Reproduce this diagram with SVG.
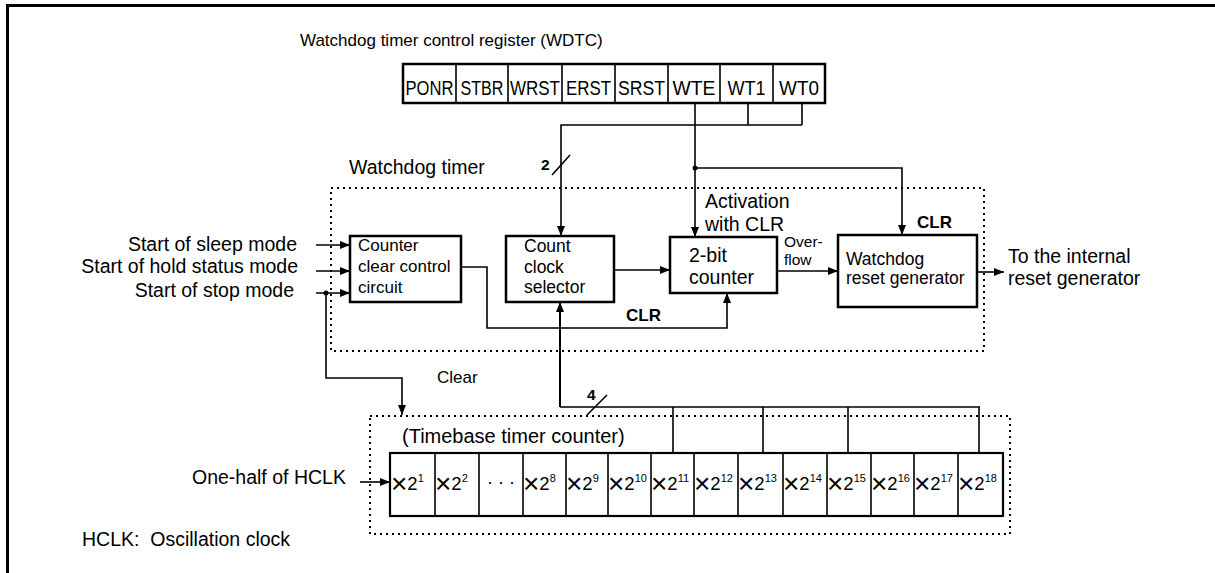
<svg xmlns="http://www.w3.org/2000/svg" width="1215" height="573" viewBox="0 0 1215 573">
<style>
text{font-family:"Liberation Sans",Arial,Helvetica,sans-serif;fill:#000}
.f15{font-size:15.5px}
.f17{font-size:17px}
.f175{font-size:17.5px}
.f19{font-size:19.5px}
.reg{font-size:20px;text-anchor:middle}
.b{font-weight:bold}
.box{fill:#fff;stroke:#000;stroke-width:2.5}
.ln{fill:none;stroke:#000;stroke-width:1.6}
.dotted{fill:none;stroke:#000;stroke-width:2;stroke-dasharray:2 4}
.cel{fill:none;stroke:#000;stroke-width:1.6}
.arr{marker-end:url(#ah)}
.c{font-size:18.5px}
.x{font-size:28px}
.s{font-size:11px}
</style>
<defs>
<marker id="ah" viewBox="0 0 10 8" refX="10" refY="4" markerWidth="10" markerHeight="8" markerUnits="userSpaceOnUse" orient="auto"><path d="M0,0L10,4L0,8z" fill="#000"/></marker>
</defs>
<rect width="1215" height="573" fill="#fff"/>
<path d="M7.5,573V5.5H1215" fill="none" stroke="#000" stroke-width="3"/>

<g id="register">
<text class="f17" x="300" y="46">Watchdog timer control register (WDTC)</text>
<rect x="403" y="64" width="422" height="39" fill="#fff" stroke="#000" stroke-width="2.5"/>
<path class="cel" d="M456,64V103M508,64V103M562,64V103M615,64V103M668,64V103M720,64V103M773,64V103"/>
<text class="reg" x="429.5" y="95" textLength="48" lengthAdjust="spacingAndGlyphs">PONR</text>
<text class="reg" x="482" y="95" textLength="43" lengthAdjust="spacingAndGlyphs">STBR</text>
<text class="reg" x="535" y="95" textLength="50" lengthAdjust="spacingAndGlyphs">WRST</text>
<text class="reg" x="588.5" y="95" textLength="45" lengthAdjust="spacingAndGlyphs">ERST</text>
<text class="reg" x="641.5" y="95" textLength="47" lengthAdjust="spacingAndGlyphs">SRST</text>
<text class="reg" x="694" y="95" textLength="43" lengthAdjust="spacingAndGlyphs">WTE</text>
<text class="reg" x="746.5" y="95" textLength="38" lengthAdjust="spacingAndGlyphs">WT1</text>
<text class="reg" x="799" y="95" textLength="40" lengthAdjust="spacingAndGlyphs">WT0</text>
</g>

<g id="watchdog-timer">
<rect class="dotted" x="331" y="188" width="653" height="163"/>
<text class="f19" x="349" y="174">Watchdog timer</text>
</g>

<g id="counter-clear">
<rect class="box" x="350" y="236" width="111" height="66"/>
<text class="f17" x="358" y="251">Counter</text>
<text class="f17" x="358" y="272">clear control</text>
<text class="f17" x="358" y="293">circuit</text>
</g>

<g id="count-clock-selector">
<rect class="box" x="506" y="236" width="108" height="66"/>
<text class="f175" x="524" y="252">Count</text>
<text class="f175" x="524" y="273">clock</text>
<text class="f175" x="524" y="293">selector</text>
</g>

<g id="two-bit-counter">
<rect class="box" x="670" y="237" width="107" height="56"/>
<text class="f19" x="689" y="262">2-bit</text>
<text class="f19" x="689" y="284">counter</text>
</g>

<g id="reset-generator">
<rect class="box" x="838" y="235" width="139" height="72"/>
<text class="f175" x="846" y="265">Watchdog</text>
<text class="f175" x="846" y="284">reset generator</text>
</g>

<g id="timebase">
<rect class="dotted" x="370" y="416" width="640" height="118"/>
<text x="402" y="443" style="font-size:20px">(Timebase timer counter)</text>
<rect x="390" y="453" width="613" height="63" fill="#fff" stroke="#000" stroke-width="2.2"/>
<path class="cel" d="M435,453V516M479,453V516M523,453V516M566,453V516M608,453V516M651,453V516M694,453V516M738,453V516M783,453V516M827,453V516M871,453V516M914,453V516M958,453V516"/>
<text class="c" x="391" y="490"><tspan class="x" dy="3">×</tspan><tspan dy="-3">2</tspan><tspan class="s" dy="-8">1</tspan></text>
<text class="c" x="435" y="490"><tspan class="x" dy="3">×</tspan><tspan dy="-3">2</tspan><tspan class="s" dy="-8">2</tspan></text>
<text x="501" y="488" style="font-size:18px;text-anchor:middle">· · ·</text>
<text class="c" x="523" y="490"><tspan class="x" dy="3">×</tspan><tspan dy="-3">2</tspan><tspan class="s" dy="-8">8</tspan></text>
<text class="c" x="566" y="490"><tspan class="x" dy="3">×</tspan><tspan dy="-3">2</tspan><tspan class="s" dy="-8">9</tspan></text>
<text class="c" x="608" y="490"><tspan class="x" dy="3">×</tspan><tspan dy="-3">2</tspan><tspan class="s" dy="-8">10</tspan></text>
<text class="c" x="651" y="490"><tspan class="x" dy="3">×</tspan><tspan dy="-3">2</tspan><tspan class="s" dy="-8">11</tspan></text>
<text class="c" x="694" y="490"><tspan class="x" dy="3">×</tspan><tspan dy="-3">2</tspan><tspan class="s" dy="-8">12</tspan></text>
<text class="c" x="738" y="490"><tspan class="x" dy="3">×</tspan><tspan dy="-3">2</tspan><tspan class="s" dy="-8">13</tspan></text>
<text class="c" x="783" y="490"><tspan class="x" dy="3">×</tspan><tspan dy="-3">2</tspan><tspan class="s" dy="-8">14</tspan></text>
<text class="c" x="827" y="490"><tspan class="x" dy="3">×</tspan><tspan dy="-3">2</tspan><tspan class="s" dy="-8">15</tspan></text>
<text class="c" x="871" y="490"><tspan class="x" dy="3">×</tspan><tspan dy="-3">2</tspan><tspan class="s" dy="-8">16</tspan></text>
<text class="c" x="914" y="490"><tspan class="x" dy="3">×</tspan><tspan dy="-3">2</tspan><tspan class="s" dy="-8">17</tspan></text>
<text class="c" x="958" y="490"><tspan class="x" dy="3">×</tspan><tspan dy="-3">2</tspan><tspan class="s" dy="-8">18</tspan></text>
</g>

<g id="labels">
<text class="f19" x="297" y="251" text-anchor="end">Start of sleep mode</text>
<text class="f19" x="298" y="273" text-anchor="end">Start of hold status mode</text>
<text class="f19" x="294" y="297" text-anchor="end">Start of stop mode</text>
<text class="f17" x="437" y="383">Clear</text>
<text class="f17 b" x="626" y="321">CLR</text>
<text class="f19" x="705" y="208">Activation</text>
<text class="f19" x="705" y="231">with CLR</text>
<text class="f17 b" x="917" y="228">CLR</text>
<text class="f15" x="784" y="247">Over-</text>
<text class="f15" x="784" y="265">flow</text>
<text class="f19" x="1008" y="263">To the internal</text>
<text class="f19" x="1008" y="285">reset generator</text>
<text class="f15 b" x="541" y="170">2</text>
<text class="f15 b" x="587" y="400">4</text>
<text class="f19" x="192" y="484">One-half of HCLK</text>
<text class="f19" x="82" y="546" style="white-space:pre">HCLK:  Oscillation clock</text>
</g>

<g id="connectors">
<path class="ln arr" d="M316,245H350"/>
<path class="ln arr" d="M316,271H350"/>
<path class="ln arr" d="M316,293H350"/>
<path class="ln arr" d="M326,293V378H402V415"/>
<circle cx="326" cy="293" r="2.5"/>
<path class="ln arr" d="M461,267H487V328H727V293"/>
<path class="ln arr" d="M695,103V237"/>
<path class="ln" d="M748,103V125M802,103V125"/>
<path class="ln arr" d="M802,125H561V236"/>
<path class="ln" d="M552,175L570,155"/>
<circle cx="695" cy="168" r="2.5"/>
<path class="ln arr" d="M695,168H902V235"/>
<path class="ln arr" d="M614,270H670"/>
<path class="ln arr" d="M777,271H838"/>
<path class="ln arr" d="M977,272H1004"/>
<path class="ln arr" d="M560,407V302" style="stroke-width:2"/>
<path class="ln" d="M560,407H980M673,407V453M763,407V453M848,407V453M979,407V453"/>
<path class="ln" d="M587,415L607,395"/>
<path class="ln arr" d="M360,482H390"/>
</g>
</svg>
